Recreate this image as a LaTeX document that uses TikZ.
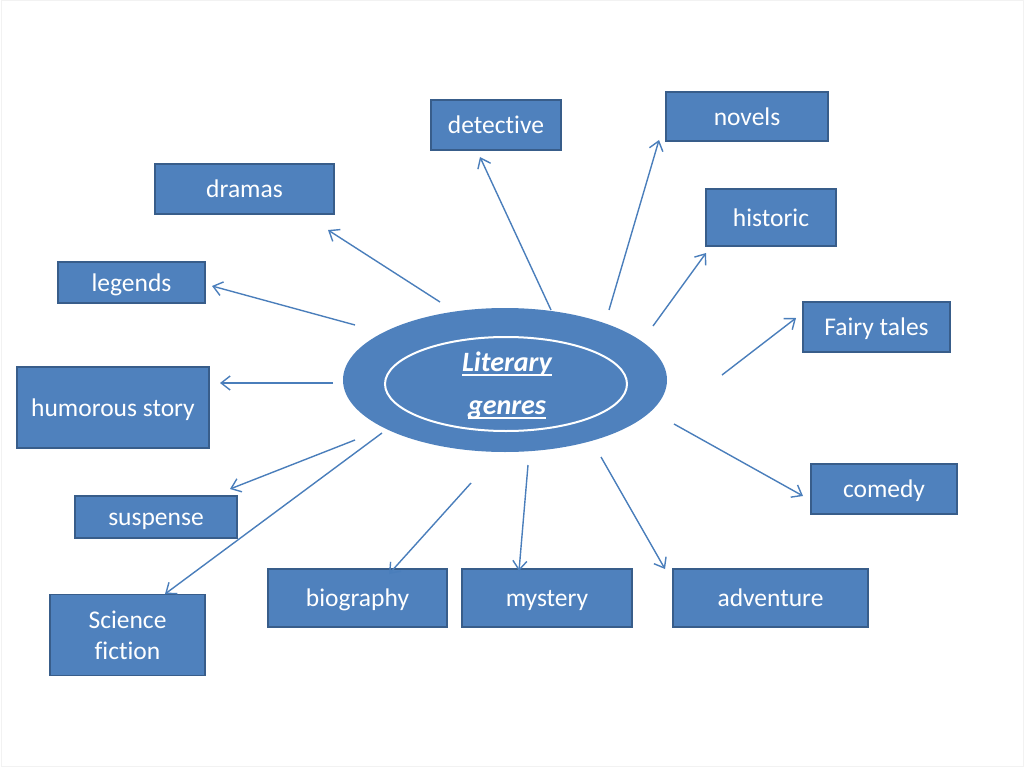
\documentclass[tikz,border=0pt]{standalone}
\usepackage{fontspec}
\setmainfont{Carlito}[Ligatures=NoCommon]
\usetikzlibrary{arrows.meta,shapes.geometric}
\definecolor{boxblue}{HTML}{4F81BD}
\definecolor{boxedge}{HTML}{385D8A}
\definecolor{arrowblue}{HTML}{4A7EBB}
\definecolor{frame}{HTML}{F2F2F2}
\newcommand\myul[1]{\setbox0\hbox{#1}\rlap{\rule[-4.5pt]{\wd0}{2pt}}\box0}
\tikzset{
  genrebox/.style={draw=boxedge, fill=boxblue, line width=1.5pt, text=white,
    font=\fontsize{25.5}{31}\selectfont, align=center, inner sep=0pt,
    text height=17.5pt, text depth=0pt},
  link/.style={draw=arrowblue, line width=1.4pt, -{Straight Barb[length=9pt,width=14pt,line width=1.4pt]}},
}
\begin{document}
\begin{tikzpicture}[x=1pt,y=-1pt]
\useasboundingbox (0,0) rectangle (1024,767);
\draw[frame, line width=1pt] (1,1) rectangle (1023,766);

% boxes
\node[genrebox, minimum width=130pt, minimum height=50pt] (detective) at (496,125) {detective};
\node[genrebox, minimum width=162pt, minimum height=49pt] (novels) at (747,116.5) {novels};
\node[genrebox, minimum width=179pt, minimum height=50pt] (dramas) at (244.5,189) {dramas};
\node[genrebox, minimum width=130pt, minimum height=57pt] (historic) at (771,217.5) {historic};
\node[genrebox, minimum width=147pt, minimum height=41pt] (legends) at (131.5,282.5) {legends};
\node[genrebox, minimum width=147pt, minimum height=50pt] (fairy) at (876.5,327) {Fairy tales};
\node[genrebox, minimum width=192pt, minimum height=81pt] (humorous) at (113,407.5) {humorous story};
\node[genrebox, minimum width=146pt, minimum height=50pt] (comedy) at (884,489) {comedy};
\node[genrebox, minimum width=162pt, minimum height=42pt] (suspense) at (156,517) {suspense};
\node[genrebox, minimum width=155pt, minimum height=81pt, text height=, text depth=] (scifi) at (127.5,635) {Science\\fiction};
\node[genrebox, minimum width=179pt, minimum height=58pt] (biography) at (357.5,598) {biography};
\node[genrebox, minimum width=170pt, minimum height=58pt] (mystery) at (547,598) {mystery};
\node[genrebox, minimum width=195pt, minimum height=58pt] (adventure) at (770.5,598) {adventure};

% central ellipse
\node[ellipse, fill=boxblue, minimum width=324pt, minimum height=144pt, inner sep=0pt] (centre) at (505,380) {};
\node[ellipse, draw=white, line width=2pt, minimum width=242pt, minimum height=94pt, inner sep=0pt] (inner) at (506,384) {};
\node[text=white, font=\fontsize{28}{43}\selectfont\bfseries\itshape, align=center] (title) at (507,386) {\myul{Literary}\\\myul{genres}};

% arrow start and tip points
\coordinate (s1) at (440,302);  \coordinate (t1) at (328,230);
\coordinate (s2) at (551,310);  \coordinate (t2) at (480,157);
\coordinate (s3) at (609,310);  \coordinate (t3) at (659,140);
\coordinate (s4) at (653,326);  \coordinate (t4) at (706,253);
\coordinate (s5) at (722,375);  \coordinate (t5) at (796,318);
\coordinate (s6) at (355,325);  \coordinate (t6) at (212,286);
\coordinate (s7) at (333,383);  \coordinate (t7) at (220,383);
\coordinate (s8) at (355,440);  \coordinate (t8) at (230,489);
\coordinate (s9) at (382,433);  \coordinate (t9) at (165,594);
\coordinate (s10) at (674,424); \coordinate (t10) at (803,496);
\coordinate (s11) at (471,483); \coordinate (t11) at (389,574);
\coordinate (s12) at (528,465); \coordinate (t12) at (519,571);
\coordinate (s13) at (601,457); \coordinate (t13) at (665,569);

\draw[link] (s1) -- (t1);
\draw[link] (s2) -- (t2);
\draw[link] (s3) -- (t3);
\draw[link] (s4) -- (t4);
\draw[link] (s5) -- (t5);
\draw[link] (s6) -- (t6);
\draw[link] (s7) -- (t7);
\draw[link] (s8) -- (t8);
\draw[link] (s9) -- (t9);
\draw[link] (s10) -- (t10);
\draw[link] (s11) -- (t11);
\draw[link] (s12) -- (t12);
\draw[link] (s13) -- (t13);
\end{tikzpicture}
\end{document}
